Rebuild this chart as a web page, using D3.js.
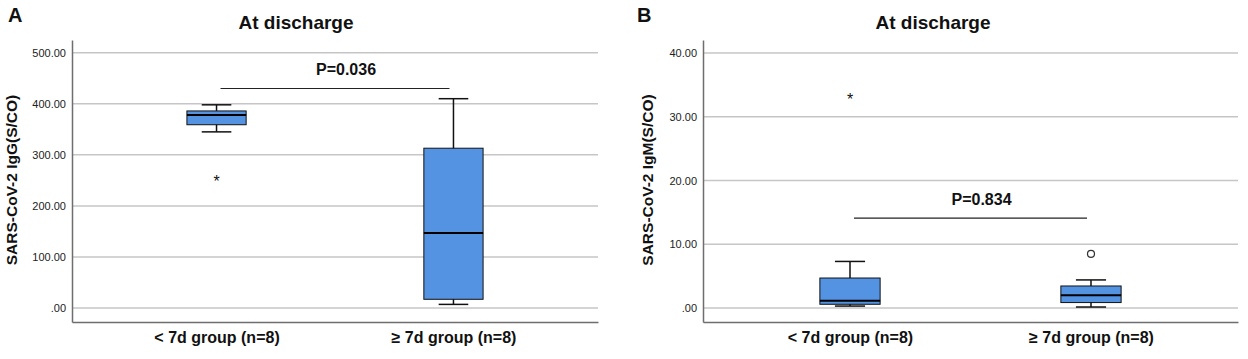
<!DOCTYPE html>
<html lang="en">
<head>
    <meta charset="UTF-8">
    <title>At discharge</title>
    <script src="https://cdn.jsdelivr.net/npm/d3@7"></script>
    <style>
        body { margin: 0; background: #fff; }
        svg { display: block; font-family: "Liberation Sans", Arial, sans-serif; }
    </style>
</head>
<body>
    <div id="container"></div>
    <script>
    // groups on the x axis (same for both panels)
    const groups = ["< 7d group (n=8)", "\u2265 7d group (n=8)"];

    // box stats per group: [lower whisker, Q1, median, Q3, upper whisker]
    const iggBoxes = [[345, 359, 378, 386, 398], [7, 17, 147, 313, 410]];
    const igmBoxes = [[0.3, 0.58, 1.15, 4.7, 7.3], [0.15, 0.85, 2.0, 3.45, 4.4]];

    // outliers: extreme (*) and mild (o)
    const iggExtreme = [[252], []];
    const iggMild = [[], []];
    const igmExtreme = [[33.1], []];
    const igmMild = [[], [8.5]];

    const iggTicks = [0, 100, 200, 300, 400, 500];
    const igmTicks = [0, 10, 20, 30, 40];

    const width = 1248, height = 359;
    const svg = d3.select("#container").append("svg")
        .attr("width", width)
        .attr("height", height);

    const fmt = v => v === 0 ? ".00" : d3.format(".2f")(v);

    function panel(opt) {
        const x = d3.scalePoint().domain(groups).range([opt.x0, opt.x1]).padding(0.61);
        const y = d3.scaleLinear().domain(opt.domain).range([322, 40]);
        const bw = x.step() * 0.25;
        const g = svg.append("g");

        // grid lines
        g.append("g").selectAll("line").data(opt.ticks).join("line")
            .attr("x1", opt.x0).attr("x2", opt.x1)
            .attr("y1", d => y(d)).attr("y2", d => y(d))
            .attr("stroke", "#c6c6c6").attr("stroke-width", 1.5);

        // y axis
        const ay = g.append("g")
            .attr("transform", `translate(${opt.x0},0)`)
            .call(d3.axisLeft(y).tickValues(opt.ticks).tickFormat(fmt).tickSize(0).tickPadding(6));
        ay.select(".domain").attr("stroke", "#6e6e6e").attr("stroke-width", 1.5);
        ay.selectAll("text").attr("font-size", 11).attr("fill", "#222")
            .attr("font-family", "'Liberation Sans', Arial, sans-serif");

        // x axis
        const ax = g.append("g")
            .attr("transform", "translate(0,322)")
            .call(d3.axisBottom(x).tickSize(0).tickPadding(10));
        ax.select(".domain").attr("stroke", "#6e6e6e").attr("stroke-width", 1.5);
        ax.selectAll("text").attr("font-size", 16).attr("font-weight", "bold").attr("fill", "#111")
            .attr("font-family", "'Liberation Sans', Arial, sans-serif");

        // boxes
        const box = g.append("g").selectAll("g").data(opt.boxes).join("g")
            .attr("transform", (d, i) => `translate(${x(groups[i])},0)`);
        box.append("line")
            .attr("y1", d => y(d[0])).attr("y2", d => y(d[4]))
            .attr("stroke", "#111").attr("stroke-width", 1.5);
        box.selectAll(".cap").data(d => [d[0], d[4]]).join("line")
            .attr("x1", -bw / 4).attr("x2", bw / 4)
            .attr("y1", d => y(d)).attr("y2", d => y(d))
            .attr("stroke", "#111").attr("stroke-width", 1.5);
        box.append("rect")
            .attr("x", -bw / 2).attr("width", bw)
            .attr("y", d => y(d[3])).attr("height", d => y(d[1]) - y(d[3]))
            .attr("fill", "#5393e2").attr("stroke", "#111").attr("stroke-width", 1);
        box.append("line")
            .attr("x1", -bw / 2).attr("x2", bw / 2)
            .attr("y1", d => y(d[2])).attr("y2", d => y(d[2]))
            .attr("stroke", "#000").attr("stroke-width", 2);

        // outliers
        opt.extreme.forEach((vals, i) => {
            g.selectAll(null).data(vals).join("text")
                .attr("x", x(groups[i])).attr("y", d => y(d) + 8)
                .attr("text-anchor", "middle").attr("font-size", 16).attr("fill", "#111")
                .text("*");
        });
        opt.mild.forEach((vals, i) => {
            g.selectAll(null).data(vals).join("circle")
                .attr("cx", x(groups[i])).attr("cy", d => y(d))
                .attr("r", 3.5).attr("fill", "none").attr("stroke", "#333").attr("stroke-width", 1.2);
        });

        // p-value bracket
        g.append("line")
            .attr("x1", x(groups[0]) + 4).attr("x2", x(groups[1]) - 4)
            .attr("y1", y(opt.pLevel)).attr("y2", y(opt.pLevel))
            .attr("stroke", "#222").attr("stroke-width", 1.2);
        g.append("text")
            .attr("x", (x(groups[0]) + x(groups[1])) / 2 + 11)
            .attr("y", y(opt.pLevel) - 13)
            .attr("text-anchor", "middle").attr("font-size", 16).attr("font-weight", "bold")
            .attr("fill", "#111")
            .text(opt.pText);

        // title, panel letter, y label
        g.append("text")
            .attr("x", opt.titleX).attr("y", 29)
            .attr("text-anchor", "middle").attr("font-size", 19).attr("font-weight", "bold")
            .attr("fill", "#111")
            .text("At discharge");
        g.append("text")
            .attr("x", opt.letterX).attr("y", 22)
            .attr("font-size", 20).attr("font-weight", "bold").attr("fill", "#111")
            .text(opt.letter);
        g.append("text")
            .attr("transform", `translate(${opt.yTitleX},180) rotate(-90)`)
            .attr("text-anchor", "middle").attr("font-size", 15.5).attr("font-weight", "bold")
            .attr("fill", "#111")
            .text(opt.yTitle);
    }

    panel({
        x0: 72, x1: 598, domain: [-27.5, 525], ticks: iggTicks,
        boxes: iggBoxes, extreme: iggExtreme, mild: iggMild,
        pLevel: 430, pText: "P=0.036",
        titleX: 296, letter: "A", letterX: 8, yTitleX: 17,
        yTitle: "SARS-CoV-2 IgG(S/CO)"
    });
    panel({
        x0: 703, x1: 1238, domain: [-2.2, 42.04], ticks: igmTicks,
        boxes: igmBoxes, extreme: igmExtreme, mild: igmMild,
        pLevel: 14.1, pText: "P=0.834",
        titleX: 933, letter: "B", letterX: 637, yTitleX: 653,
        yTitle: "SARS-CoV-2 IgM(S/CO)"
    });
    </script>
</body>
</html>
